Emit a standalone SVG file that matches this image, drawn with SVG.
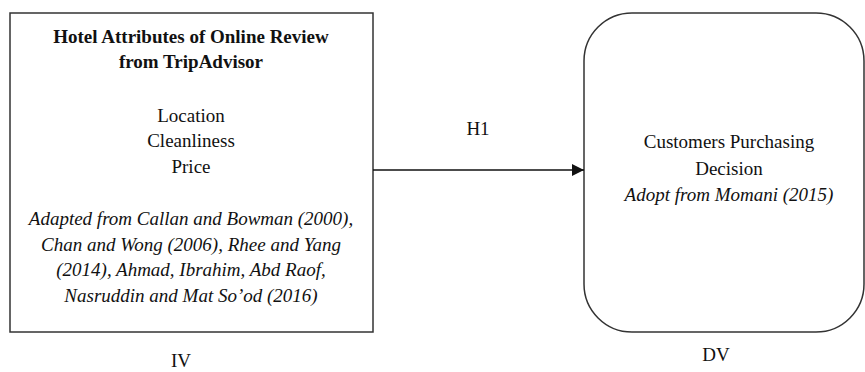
<svg xmlns="http://www.w3.org/2000/svg" width="865" height="372" viewBox="0 0 865 372">
<defs>
<style>
text{font-family:"Liberation Serif","Times New Roman",serif;font-size:19px;fill:#111;text-anchor:middle}
.b{font-weight:bold}
.i{font-style:italic}
.box{fill:#fff;stroke:#333;stroke-width:1.5}
.conn{stroke:#111;stroke-width:1.5;fill:none}
</style>
<marker id="arr" viewBox="0 0 10 10" refX="10" refY="5" markerWidth="12" markerHeight="12" markerUnits="userSpaceOnUse" orient="auto">
<path d="M0,0 L10,5 L0,10 z" fill="#111"/>
</marker>
</defs>
<rect width="865" height="372" fill="#fff"/>
<g id="iv">
<rect class="box" x="10" y="13" width="363" height="319"/>
<text class="b" x="191" y="43">Hotel Attributes of Online Review</text>
<text class="b" x="191" y="68">from TripAdvisor</text>
<text x="191" y="122">Location</text>
<text x="191" y="147">Cleanliness</text>
<text x="191" y="173">Price</text>
<text class="i" x="191" y="225">Adapted from Callan and Bowman (2000),</text>
<text class="i" x="191" y="251">Chan and Wong (2006), Rhee and Yang</text>
<text class="i" x="191" y="276">(2014), Ahmad, Ibrahim, Abd Raof,</text>
<text class="i" x="191" y="302">Nasruddin and Mat So’od (2016)</text>
</g>
<g id="dv">
<rect class="box" x="584" y="13" width="280" height="319" rx="48" ry="48"/>
<text x="729" y="148">Customers Purchasing</text>
<text x="729" y="175">Decision</text>
<text class="i" x="729" y="201">Adopt from Momani (2015)</text>
</g>
<g id="connectors">
<line class="conn" x1="373" y1="170" x2="584" y2="170" marker-end="url(#arr)"/>
<text x="478" y="135">H1</text>
</g>
<g id="labels">
<text x="181" y="367">IV</text>
<text x="716" y="361">DV</text>
</g>
</svg>
